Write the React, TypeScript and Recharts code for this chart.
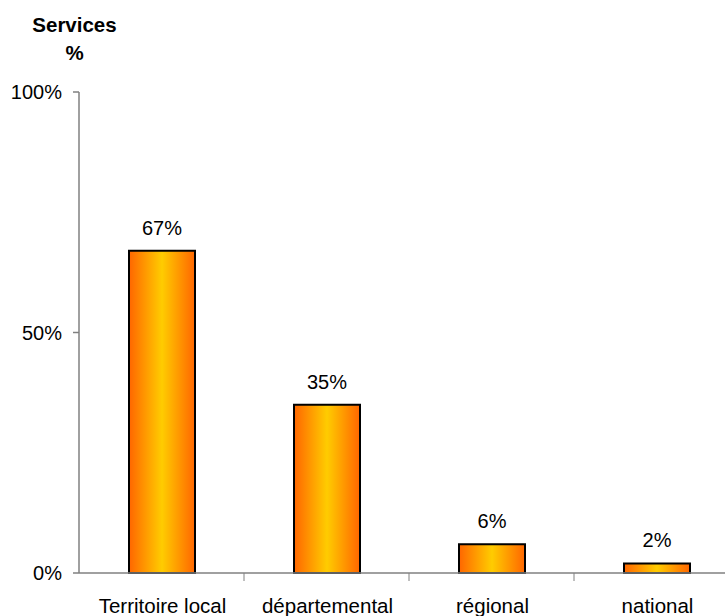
import React from 'react';
import { BarChart, Bar, XAxis, YAxis, LabelList } from 'recharts';

const categories = ['Territoire local', 'départemental', 'régional', 'national'];
const values = [67, 35, 6, 2];
const yTicks = [0, 50, 100];

const data = categories.map((name, i) => ({ name, value: values[i] }));

const FONT = '"Liberation Sans", Arial, Helvetica, sans-serif';
const AXIS = '#808080';

const XTick = (props: any) => {
  const { x, y, payload } = props;
  const off = payload && typeof payload.offset === 'number' && payload.offset > 0 ? payload.offset : 82.5;
  return (
    <g>
      <line x1={x + off} x2={x + off} y1={y - 8} y2={y} stroke={AXIS} strokeWidth={1} />
      <text x={x + 1} y={y + 32} textAnchor="middle" fontFamily={FONT} fontSize={20.5} fill="#000">
        {payload.value}
      </text>
    </g>
  );
};

export default function App() {
  return (
    <div style={{ position: 'absolute', left: 0, top: 0, width: 725, height: 616, overflow: 'hidden', background: '#fff' }}>
      <div style={{ position: 'absolute', left: 0, top: 15, width: 149, textAlign: 'center', fontFamily: FONT, fontWeight: 'bold', fontSize: 20.5, lineHeight: '20px' }}>
        Services
      </div>
      <div style={{ position: 'absolute', left: 0, top: 43, width: 149, textAlign: 'center', fontFamily: FONT, fontWeight: 'bold', fontSize: 20.5, lineHeight: '20px' }}>
        %
      </div>
      <BarChart
        width={760}
        height={616}
        data={data}
        margin={{ top: 92, right: 21, left: 0, bottom: 13 }}
        barCategoryGap={0}
      >
        <defs>
          <linearGradient id="barGrad" x1="0" y1="0" x2="1" y2="0">
            <stop offset="0%" stopColor="#FF6600" />
            <stop offset="50%" stopColor="#FFCC00" />
            <stop offset="100%" stopColor="#FF6600" />
          </linearGradient>
        </defs>
        <XAxis
          dataKey="name"
          height={30}
          tickLine={false}
          tickSize={8}
          tickMargin={0}
          axisLine={{ stroke: AXIS, strokeWidth: 1.5 }}
          tick={<XTick />}
          interval={0}
        />
        <YAxis
          width={79}
          domain={[0, 100]}
          ticks={yTicks}
          tickFormatter={(v: number) => `${v}%`}
          tickSize={6}
          tickMargin={11}
          axisLine={{ stroke: AXIS, strokeWidth: 1.5 }}
          tickLine={{ stroke: AXIS, strokeWidth: 1.5 }}
          tick={{ fill: '#000', fontSize: 20, fontFamily: FONT }}
        />
        <Bar dataKey="value" barSize={66} fill="url(#barGrad)" stroke="#000" strokeWidth={2} isAnimationActive={false}>
          <LabelList
            dataKey="value"
            position="top"
            offset={16}
            formatter={(v: any) => `${v}%`}
            style={{ fill: '#000', fontSize: 20, fontFamily: FONT }}
          />
        </Bar>
      </BarChart>
    </div>
  );
}
